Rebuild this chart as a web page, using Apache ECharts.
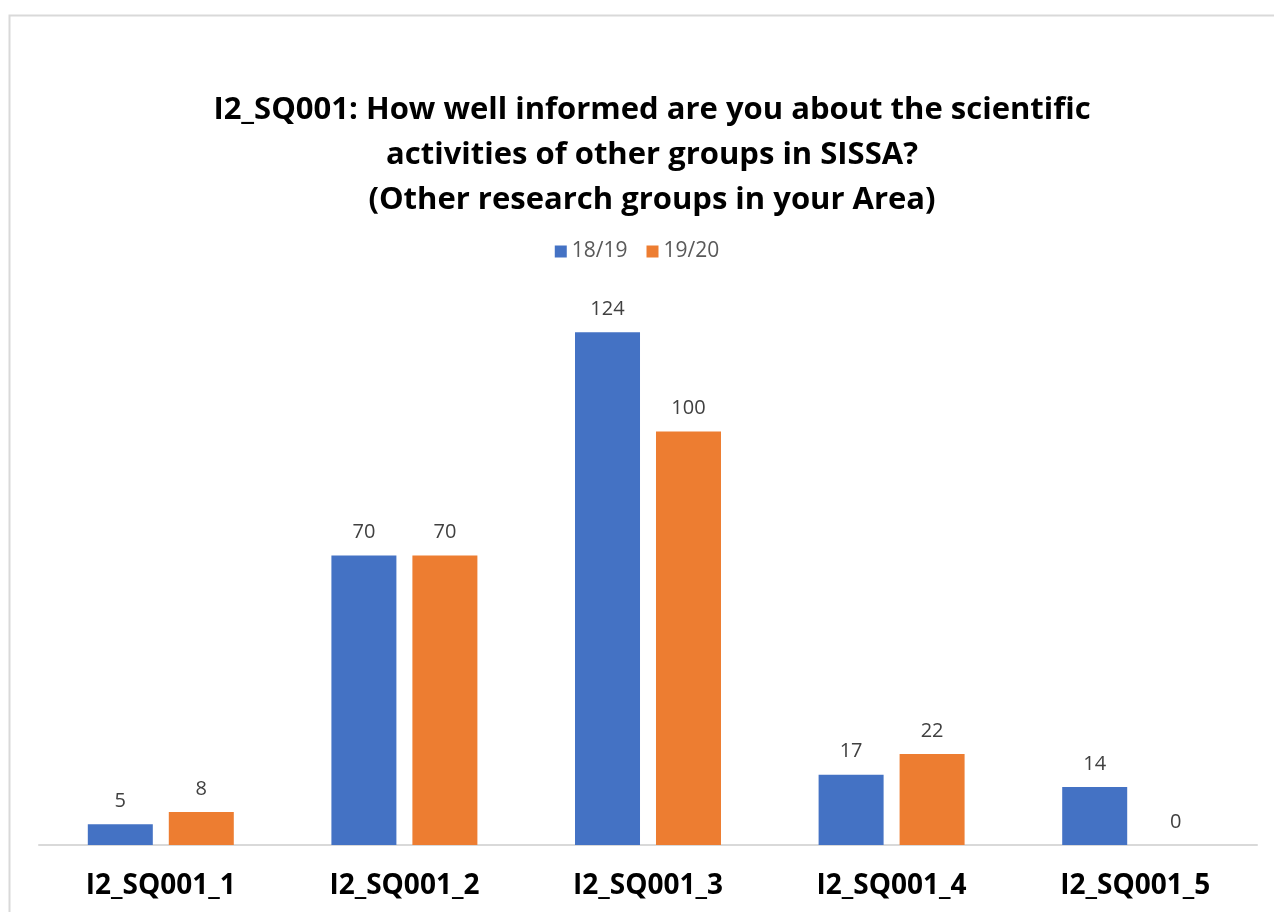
<!DOCTYPE html>
<html><head><meta charset="utf-8">
<script src="https://cdn.jsdelivr.net/npm/echarts@6/dist/echarts.min.js"></script>
<style>html,body{margin:0;padding:0;background:#fff}#c{width:1274px;height:912px}</style>
</head><body><div id="c"></div>
<script>
const categories = ['I2_SQ001_1','I2_SQ001_2','I2_SQ001_3','I2_SQ001_4','I2_SQ001_5'];
const s1819 = [5, 70, 124, 17, 14];
const s1920 = [8, 70, 100, 22, 0];
const seriesNames = ['18/19','19/20'];
const chart = echarts.init(document.getElementById('c'));
const lbl = {show:true, position:'top', distance:13, color:'#404040', fontSize:20, fontFamily:'Open Sans'};
chart.setOption({
  animation:false,
  graphic:[{type:'rect', shape:{x:9.5,y:15.5,width:1300,height:920}, style:{fill:'none',stroke:'#d9d9d9',lineWidth:2}, silent:true}],
  title:{text:'I2_SQ001: How well informed are you about the scientific\nactivities of other groups in SISSA?\n(Other research groups in your Area)',
    left:647, textAlign:'center', top:83,
    textStyle:{fontFamily:'Open Sans', fontWeight:'bold', fontSize:31, color:'#000', lineHeight:45}},
  legend:{data:seriesNames, top:236, left:'center', itemWidth:12, itemHeight:12, itemGap:19, icon:'rect',
    textStyle:{color:'#595959', fontSize:21, fontFamily:'Open Sans'}},
  grid:{left:39, right:17, top:266, bottom:67, containLabel:false},
  xAxis:{type:'category', data:categories,
    axisLine:{lineStyle:{color:'#d9d9d9', width:2}}, axisTick:{show:false},
    axisLabel:{color:'#000', fontWeight:'bold', fontSize:28, fontFamily:'Open Sans', margin:27}},
  yAxis:{type:'value', min:0, max:140, show:false, splitLine:{show:false}},
  series:[
    {name:seriesNames[0], type:'bar', data:s1819, barWidth:65, barGap:'24.6%', itemStyle:{color:'#4472C4'}, label:lbl},
    {name:seriesNames[1], type:'bar', data:s1920, barWidth:65, itemStyle:{color:'#ED7D31'}, label:lbl}
  ]
});
</script></body></html>
